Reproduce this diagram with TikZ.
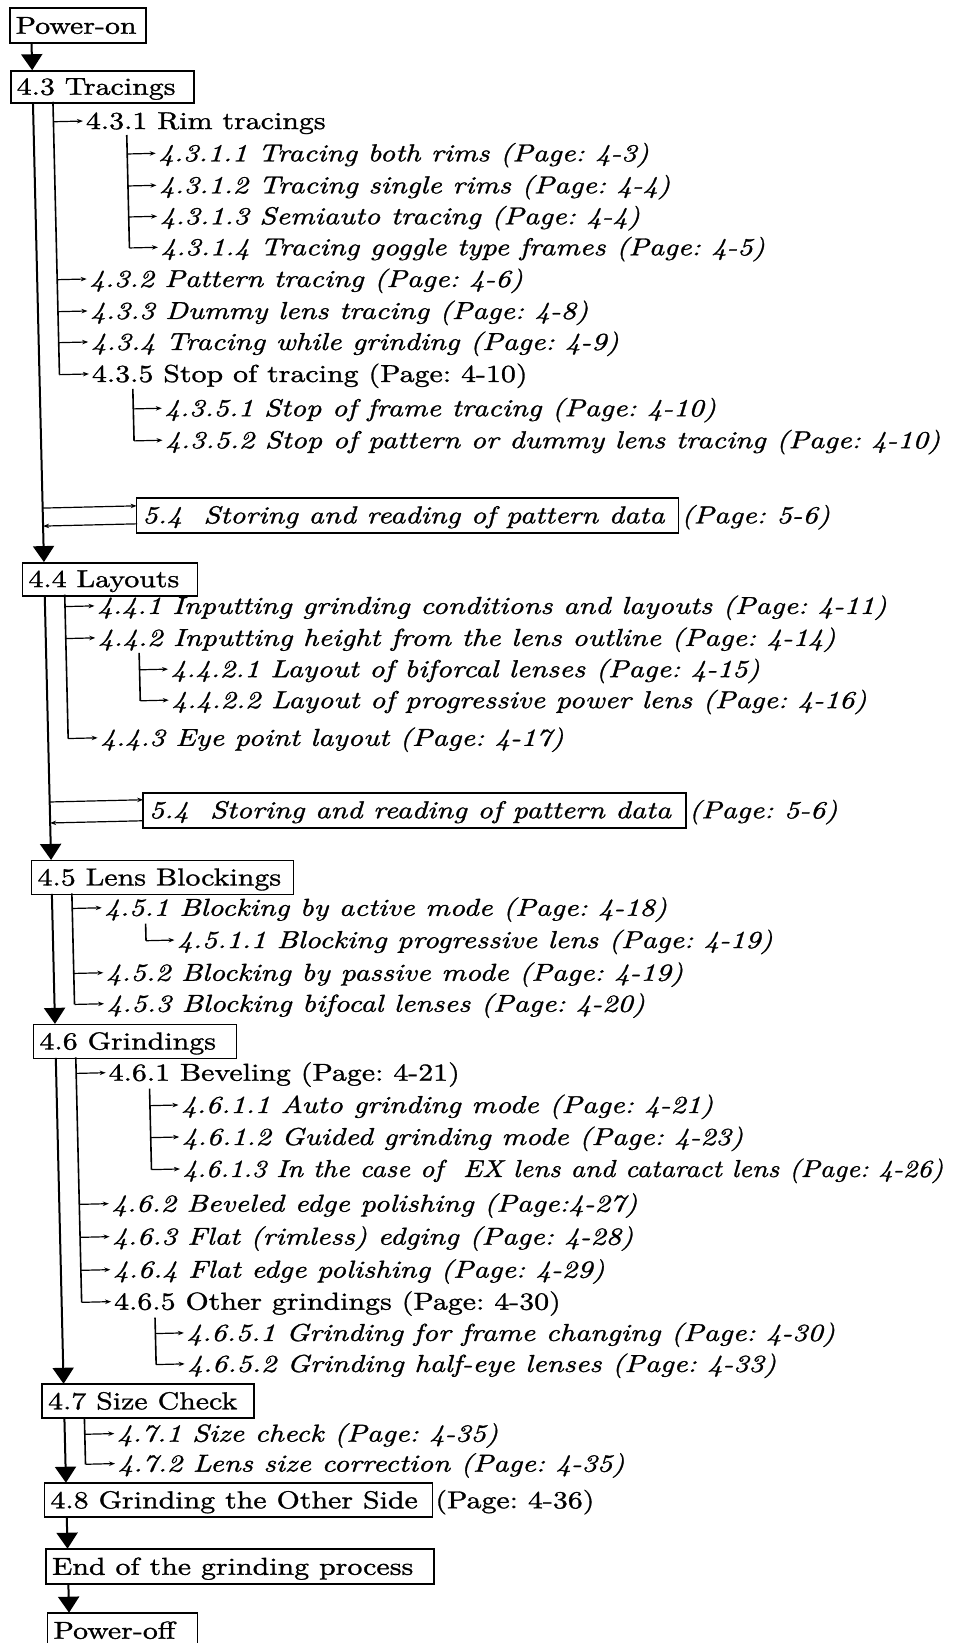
\documentclass[tikz,border=0pt]{standalone}
\usepackage{fontspec}
\usepackage{graphicx}
\setmainfont{lmroman10-regular.otf}[ItalicFont=lmroman10-italic.otf, BoldFont=lmroman10-bold.otf, BoldItalicFont=lmroman10-bolditalic.otf, FakeStretch=1.22, FakeBold=1.2]
\usetikzlibrary{arrows.meta}
\newcommand{\myfs}{\fontsize{24.5pt}{29pt}\selectfont\frenchspacing}
\newcommand{\bxw}[2]{\makebox[#1][l]{#2}}
\tikzset{
  bx/.style={draw, line width=1.8pt, anchor=north west, inner xsep=6pt, inner ysep=0pt, outer sep=0pt, text height=18pt, text depth=2pt, font=\myfs},
  rowup/.style={anchor=west, inner xsep=3pt, inner ysep=0pt, outer sep=0pt, text height=18pt, text depth=2pt, font=\myfs},
  rowit/.style={rowup, font=\myfs\itshape},
  trunk/.style={line width=2pt},
  branch/.style={line width=1.6pt},
  sarrow/.style={line width=1.2pt, -{Stealth[length=6pt,width=4.5pt]}},
  barrow/.style={line width=2pt, -{Triangle[length=16pt,width=21pt]}},
}
\begin{document}
\begin{tikzpicture}[x=1pt,y=-1pt]
\clip (0,0) rectangle (961,1643);
\fill[white] (0,0) rectangle (961,1643);
\begin{scope}[rotate=1.37]
% ---------- boxes ----------
\node[bx, minimum height=35pt] (pon) at (9.5,8.5) {\bxw{124pt}{Power-on}};
\node[bx, minimum height=32pt] (t43) at (9,71) {\bxw{171pt}{4.3 Tracings}};
\node[bx, minimum height=35pt, font=\myfs\itshape] (s1) at (124.5,501) {\bxw{530pt}{5.4\ \ Storing and reading of pattern data}};
\node[rowit] (p1) at (s1.east) {(Page: 5-6)};
\node[bx, minimum height=33pt] (t44) at (9,563) {\bxw{163pt}{4.4 Layouts}};
\node[bx, minimum height=35pt, font=\myfs\itshape] (s2) at (124,796) {\bxw{531pt}{5.4\ \ Storing and reading of pattern data}};
\node[rowit] (p2) at (s2.east) {(Page: 5-6)};
\node[bx, minimum height=34pt] (t45) at (11,861) {\bxw{250pt}{4.5 Lens Blockings}};
\node[bx, minimum height=34pt] (t46) at (9,1025) {\bxw{191pt}{4.6 Grindings}};
\node[bx, minimum height=34pt] (t47) at (9,1385) {\bxw{200pt}{4.7 Size Check}};
\node[bx, minimum height=34pt] (t48) at (9,1484) {\bxw{376pt}{4.8 Grinding the Other Side}};
\node[rowup] (p3) at (t48.east) {(Page: 4-36)};
\node[bx, minimum height=35pt] (tend) at (9,1550) {\bxw{376pt}{End of the grinding process}};
\node[bx, minimum height=35pt] (poff) at (9,1614) {\bxw{138pt}{Power-off}};
% ---------- 4.3 entries ----------
\node[rowup] (t431) at (80,123) {4.3.1 Rim tracings};
\node[rowit] (t4311) at (152,157) {4.3.1.1 Tracing both rims (Page: 4-3)};
\node[rowit] (t4312) at (152,189) {4.3.1.2 Tracing single rims (Page: 4-4)};
\node[rowit] (t4313) at (152,220) {4.3.1.3 Semiauto tracing (Page: 4-4)};
\node[rowit] (t4314) at (152,251) {4.3.1.4 Tracing goggle type frames (Page: 4-5)};
\node[rowit] (t432) at (80,281) {4.3.2 Pattern tracing (Page: 4-6)};
\node[rowit] (t433) at (80,313) {4.3.3 Dummy lens tracing (Page: 4-8)};
\node[rowit] (t434) at (80,344) {4.3.4 Tracing while grinding (Page: 4-9)};
\node[rowup] (t435) at (80,376) {4.3.5 Stop of tracing (Page: 4-10)};
\node[rowit] (t4351) at (152,412) {4.3.5.1 Stop of frame tracing (Page: 4-10)};
\node[rowit] (t4352) at (152,444) {4.3.5.2 Stop of pattern or dummy lens tracing (Page: 4-10)};
% ---------- 4.4 entries ----------
\node[rowit] (t441) at (80,608) {4.4.1 Inputting grinding conditions and layouts (Page: 4-11)};
\node[rowit] (t442) at (80,640) {4.4.2 Inputting height from the lens outline (Page: 4-14)};
\node[rowit] (t4421) at (152,673) {4.4.2.1 Layout of biforcal lenses (Page: 4-15)};
\node[rowit] (t4422) at (152,704) {4.4.2.2 Layout of progressive power lens (Page: 4-16)};
\node[rowit] (t443) at (80,740) {4.4.3 Eye point layout (Page: 4-17)};
% ---------- 4.5 entries ----------
\node[rowit] (t451) at (80,910) {4.5.1 Blocking by active mode (Page: 4-18)};
\node[rowit] (t4511) at (152,944) {4.5.1.1 Blocking progressive lens (Page: 4-19)};
\node[rowit] (t452) at (80,975) {4.5.2 Blocking by passive mode (Page: 4-19)};
\node[rowit] (t453) at (80,1006) {4.5.3 Blocking bifocal lenses (Page: 4-20)};
% ---------- 4.6 entries ----------
\node[rowup] (t461) at (80,1075) {4.6.1 Beveling (Page: 4-21)};
\node[rowit] (t4611) at (152,1109) {4.6.1.1 Auto grinding mode (Page: 4-21)};
\node[rowit] (t4612) at (152,1141) {4.6.1.2 Guided grinding mode (Page: 4-23)};
\node[rowit] (t4613) at (152,1173) {\scalebox{0.94}[1]{4.6.1.3 In the case of\ \ EX lens and cataract lens (Page: 4-26)}};
\node[rowit] (t462) at (80,1206) {4.6.2 Beveled edge polishing (Page:4-27)};
\node[rowit] (t463) at (80,1239) {4.6.3 Flat (rimless) edging (Page: 4-28)};
\node[rowit] (t464) at (80,1272) {4.6.4 Flat edge polishing (Page: 4-29)};
\node[rowup] (t465) at (80,1304) {4.6.5 Other grindings (Page: 4-30)};
\node[rowit] (t4651) at (152,1337) {4.6.5.1 Grinding for frame changing (Page: 4-30)};
\node[rowit] (t4652) at (152,1368) {4.6.5.2 Grinding half-eye lenses (Page: 4-33)};
% ---------- 4.7 entries ----------
\node[rowit] (t471) at (80,1436) {4.7.1 Size check (Page: 4-35)};
\node[rowit] (t472) at (80,1466) {4.7.2 Lens size correction (Page: 4-35)};
% ---------- junction coordinates ----------
\coordinate (m0a) at (30.5,43.5);  \coordinate (m0b) at (30.5,71);
\coordinate (m1a) at (30.5,103);   \coordinate (m1b) at (30.5,563);
\coordinate (r1a) at (30.5,509);   \coordinate (r1b) at (124.5,509);
\coordinate (r1c) at (124.5,527);  \coordinate (r1d) at (30.5,527);
\coordinate (m2a) at (30.5,596);   \coordinate (m2b) at (30.5,861);
\coordinate (r2a) at (30.5,803);   \coordinate (r2b) at (124,803);
\coordinate (r2c) at (124,824);    \coordinate (r2d) at (30.5,824);
\coordinate (m3a) at (30.5,895);   \coordinate (m3b) at (30.5,1025);
\coordinate (m4a) at (30.5,1059);  \coordinate (m4b) at (30.5,1385);
\coordinate (m5a) at (30.5,1419);  \coordinate (m5b) at (30.5,1484);
\coordinate (m6a) at (30.5,1518);  \coordinate (m6b) at (30.5,1550);
\coordinate (m7a) at (30.5,1585);  \coordinate (m7b) at (30.5,1614);
% level-1 branch lines
\coordinate (b43) at (50.5,103);  \coordinate (j431) at (50.5,123); \coordinate (j432) at (50.5,281);
\coordinate (j433) at (50.5,313); \coordinate (j434) at (50.5,344); \coordinate (j435) at (50.5,376);
\coordinate (b44) at (50.5,596);  \coordinate (j441) at (50.5,608); \coordinate (j442) at (50.5,640); \coordinate (j443) at (50.5,740);
\coordinate (b45) at (50.5,895);  \coordinate (j451) at (50.5,910); \coordinate (j452) at (50.5,975); \coordinate (j453) at (50.5,1006);
\coordinate (b46) at (50.5,1059); \coordinate (j461) at (50.5,1075); \coordinate (j462) at (50.5,1206); \coordinate (j463) at (50.5,1239);
\coordinate (j464) at (50.5,1272); \coordinate (j465) at (50.5,1304);
\coordinate (b47) at (50.5,1419); \coordinate (j471) at (50.5,1436); \coordinate (j472) at (50.5,1466);
% level-2 branch lines
\coordinate (c431) at (123.5,138); \coordinate (k4311) at (123.5,157); \coordinate (k4312) at (123.5,189);
\coordinate (k4313) at (123.5,220); \coordinate (k4314) at (123.5,251);
\coordinate (c435) at (123.5,392); \coordinate (k4351) at (123.5,412); \coordinate (k4352) at (123.5,444);
\coordinate (c442) at (123.5,656); \coordinate (k4421) at (123.5,673); \coordinate (k4422) at (123.5,704);
\coordinate (c451) at (123.5,927); \coordinate (k4511) at (123.5,944);
\coordinate (c461) at (123.5,1092); \coordinate (k4611) at (123.5,1109); \coordinate (k4612) at (123.5,1141); \coordinate (k4613) at (123.5,1173);
\coordinate (c465) at (123.5,1321); \coordinate (k4651) at (123.5,1337); \coordinate (k4652) at (123.5,1368);
% ---------- trunk ----------
\draw[barrow] (m0a) -- (m0b);
\draw[barrow] (m1a) -- (m1b);
\draw[sarrow] (r1a) -- (r1b);
\draw[sarrow] (r1c) -- (r1d);
\draw[barrow] (m2a) -- (m2b);
\draw[sarrow] (r2a) -- (r2b);
\draw[sarrow] (r2c) -- (r2d);
\draw[barrow] (m3a) -- (m3b);
\draw[barrow] (m4a) -- (m4b);
\draw[barrow] (m5a) -- (m5b);
\draw[barrow] (m6a) -- (m6b);
\draw[barrow] (m7a) -- (m7b);
% ---------- branches ----------
\draw[branch] (b43) -- (j435);
\foreach \j/\t in {j431/t431, j432/t432, j433/t433, j434/t434, j435/t435} \draw[sarrow] (\j) -- (\t.west);
\draw[branch] (c431) -- (k4314);
\foreach \j/\t in {k4311/t4311, k4312/t4312, k4313/t4313, k4314/t4314} \draw[sarrow] (\j) -- (\t.west);
\draw[branch] (c435) -- (k4352);
\foreach \j/\t in {k4351/t4351, k4352/t4352} \draw[sarrow] (\j) -- (\t.west);
\draw[branch] (b44) -- (j443);
\foreach \j/\t in {j441/t441, j442/t442, j443/t443} \draw[sarrow] (\j) -- (\t.west);
\draw[branch] (c442) -- (k4422);
\foreach \j/\t in {k4421/t4421, k4422/t4422} \draw[sarrow] (\j) -- (\t.west);
\draw[branch] (b45) -- (j453);
\foreach \j/\t in {j451/t451, j452/t452, j453/t453} \draw[sarrow] (\j) -- (\t.west);
\draw[branch] (c451) -- (k4511);
\draw[sarrow] (k4511) -- (t4511.west);
\draw[branch] (b46) -- (j465);
\foreach \j/\t in {j461/t461, j462/t462, j463/t463, j464/t464, j465/t465} \draw[sarrow] (\j) -- (\t.west);
\draw[branch] (c461) -- (k4613);
\foreach \j/\t in {k4611/t4611, k4612/t4612, k4613/t4613} \draw[sarrow] (\j) -- (\t.west);
\draw[branch] (c465) -- (k4652);
\foreach \j/\t in {k4651/t4651, k4652/t4652} \draw[sarrow] (\j) -- (\t.west);
\draw[branch] (b47) -- (j472);
\foreach \j/\t in {j471/t471, j472/t472} \draw[sarrow] (\j) -- (\t.west);
\end{scope}
\end{tikzpicture}
\end{document}
